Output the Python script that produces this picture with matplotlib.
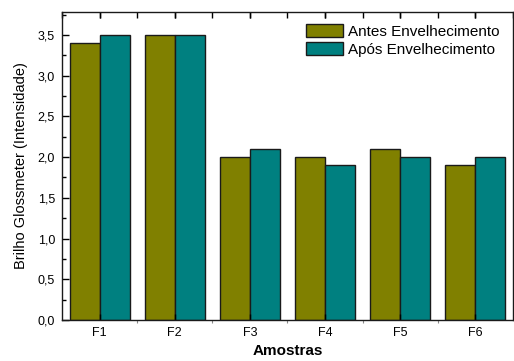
import matplotlib
matplotlib.use("Agg")
import matplotlib.pyplot as plt
from matplotlib.ticker import MultipleLocator, FixedLocator, FuncFormatter
import numpy as np

plt.rcParams['font.family'] = ['Liberation Sans', 'DejaVu Sans']

samples = ["F1", "F2", "F3", "F4", "F5", "F6"]
before_aging = [3.4, 3.5, 2.0, 2.0, 2.1, 1.9]
after_aging = [3.5, 3.5, 2.1, 1.9, 2.0, 2.0]
series_labels = ["Antes Envelhecimento", "Após Envelhecimento"]

fig = plt.figure(figsize=(5.14, 3.61), dpi=100)
ax = fig.add_axes([0.1206, 0.1136, 0.877, 0.853])

x = np.arange(len(samples))
w = 0.4
ax.bar(x - w / 2, before_aging, width=w, color="#808000", edgecolor="#1a1a1a",
       linewidth=1.0, label=series_labels[0])
ax.bar(x + w / 2, after_aging, width=w, color="#008080", edgecolor="#1a1a1a",
       linewidth=1.0, label=series_labels[1])

ax.set_xlim(-0.5, len(samples) - 0.5)
ax.set_ylim(0, 3.78)

ax.yaxis.set_major_locator(MultipleLocator(0.5))
ax.yaxis.set_minor_locator(MultipleLocator(0.25))
ax.yaxis.set_major_formatter(FuncFormatter(lambda v, p: f"{v:.1f}".replace(".", ",")))
ax.set_xticks(x)
ax.set_xticklabels(samples)
ax.xaxis.set_minor_locator(FixedLocator(x[:-1] + 0.5))

ax.tick_params(axis="y", which="major", direction="in", length=5, width=1,
               labelsize=9, left=True, right=False, pad=5)
ax.tick_params(axis="y", which="minor", direction="in", length=3, width=1,
               left=True, right=False)
ax.tick_params(axis="x", which="major", direction="in", length=4, width=1,
               labelsize=9, top=True, bottom=True, pad=5)
ax.tick_params(axis="x", which="minor", direction="out", length=2, width=0.8,
               top=False, bottom=True, color="#888888")

# Inward ticks along the top spine at categories and midpoints
top = ax.secondary_xaxis("top")
top.set_xticks(np.arange(-0.5, len(samples), 0.5))
top.tick_params(direction="in", length=4, width=1, labeltop=False)
top.spines["top"].set_visible(False)

for s in ax.spines.values():
    s.set_linewidth(1.0)
    s.set_color("#1a1a1a")

ax.set_ylabel("Brilho Glossmeter (Intensidade)", fontsize=10.5, labelpad=7)
ax.set_xlabel("Amostras", fontsize=11, fontweight="bold", labelpad=4)

ax.legend(loc="upper right", frameon=False, fontsize=11, handlelength=2.4,
          handleheight=0.95, handletextpad=0.35, labelspacing=0.2,
          borderaxespad=0.3, bbox_to_anchor=(0.995, 0.995))

fig.savefig("out.png", dpi=100)
